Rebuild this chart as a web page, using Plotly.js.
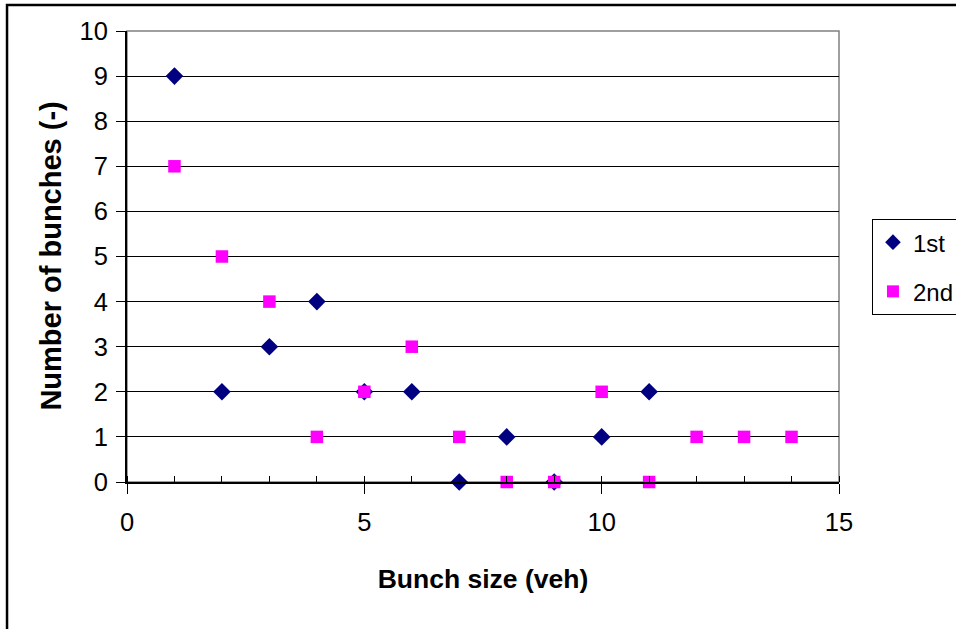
<!DOCTYPE html>
<html>
<head>
<meta charset="utf-8">
<script src="https://cdn.plot.ly/plotly-3.0.1.min.js"></script>
<style>
html,body{margin:0;padding:0;background:#fff;overflow:hidden;}
#chart{width:956px;height:629px;}
</style>
</head>
<body>
<div id="chart"></div>
<script>
// Data
var size1st = [1, 2, 3, 4, 5, 6, 7, 8, 9, 10, 11];
var count1st = [9, 2, 3, 4, 2, 2, 0, 1, 0, 1, 2];
var size2nd = [1, 2, 3, 4, 5, 6, 7, 8, 9, 10, 11, 12, 13, 14];
var count2nd = [7, 5, 4, 1, 2, 3, 1, 0, 0, 2, 0, 1, 1, 1];
var seriesNames = ["1st", "2nd"];
var xTicks = [0, 5, 10, 15];
var yTicks = [0, 1, 2, 3, 4, 5, 6, 7, 8, 9, 10];
var xTitle = "Bunch size (veh)";
var yTitle = "Number of bunches (-)";

var font = "Arial, 'Liberation Sans', sans-serif";

var traces = [
  {x: size1st, y: count1st, name: seriesNames[0], legendgroup: "g1", type: "scatter", mode: "markers",
   marker: {symbol: "diamond", color: "#000080", size: 13.5}, cliponaxis: false},
  {x: size2nd, y: count2nd, name: seriesNames[1], legendgroup: "g2", type: "scatter", mode: "markers",
   marker: {symbol: "square", color: "#FF00FF", size: 12.5}, cliponaxis: false}
];

var layout = {
  width: 956, height: 629,
  margin: {l: 127, r: 117, t: 31, b: 147, autoexpand: false},
  paper_bgcolor: "#fff", plot_bgcolor: "#fff",
  font: {family: font, size: 24, color: "#000"},
  showlegend: true,
  legend: {x: 1.0463, xanchor: "left", y: 0.583, yanchor: "top",
    bordercolor: "#000", borderwidth: 1, bgcolor: "#fff",
    font: {family: font, size: 24, color: "#000"}, itemsizing: "constant",
    itemwidth: 30, tracegroupgap: 15, traceorder: "grouped"},
  xaxis: {
    range: [0, 15], tickvals: xTicks, ticktext: xTicks.map(String),
    showgrid: false, zeroline: false,
    showline: true, linecolor: "#000", linewidth: 2,
    ticks: "outside", ticklen: 10, tickcolor: "#000", tickwidth: 1,
    ticklabelstandoff: 6,
    minor: {dtick: 1, ticks: "inside", ticklen: 6, tickcolor: "#000", showgrid: false},
    tickfont: {family: font, size: 25.5},
    title: {text: "<b>" + xTitle + "</b>", font: {family: font, size: 26.5}, standoff: 35}
  },
  yaxis: {
    range: [0, 10], tickvals: yTicks, ticktext: yTicks.map(String),
    showgrid: true, gridcolor: "#000", gridwidth: 1,
    zeroline: false,
    showline: true, linecolor: "#000", linewidth: 2,
    ticks: "outside", ticklen: 9, tickcolor: "#000",
    ticklabelstandoff: 3,
    tickfont: {family: font, size: 25.5}
  },
  annotations: [
    {text: "<b>" + yTitle + "</b>", textangle: -90, showarrow: false,
     xref: "paper", yref: "paper", x: -0.108, y: 0.5, xanchor: "center", yanchor: "middle",
     font: {family: font, size: 29, color: "#000"}}
  ],
  shapes: [
    {type: "rect", xref: "paper", yref: "paper", x0: 0, x1: 1, y0: 0, y1: 1,
     line: {color: "#808080", width: 1.5}, fillcolor: "rgba(0,0,0,0)", layer: "below"},
    {type: "rect", xref: "paper", yref: "paper", x0: -0.1685, x1: 1.2, y0: -0.4, y1: 1.0576,
     line: {color: "#000", width: 2.5}, fillcolor: "rgba(0,0,0,0)"}
  ]
};

Plotly.newPlot("chart", traces, layout, {displayModeBar: false, staticPlot: true});
</script>
</body>
</html>
